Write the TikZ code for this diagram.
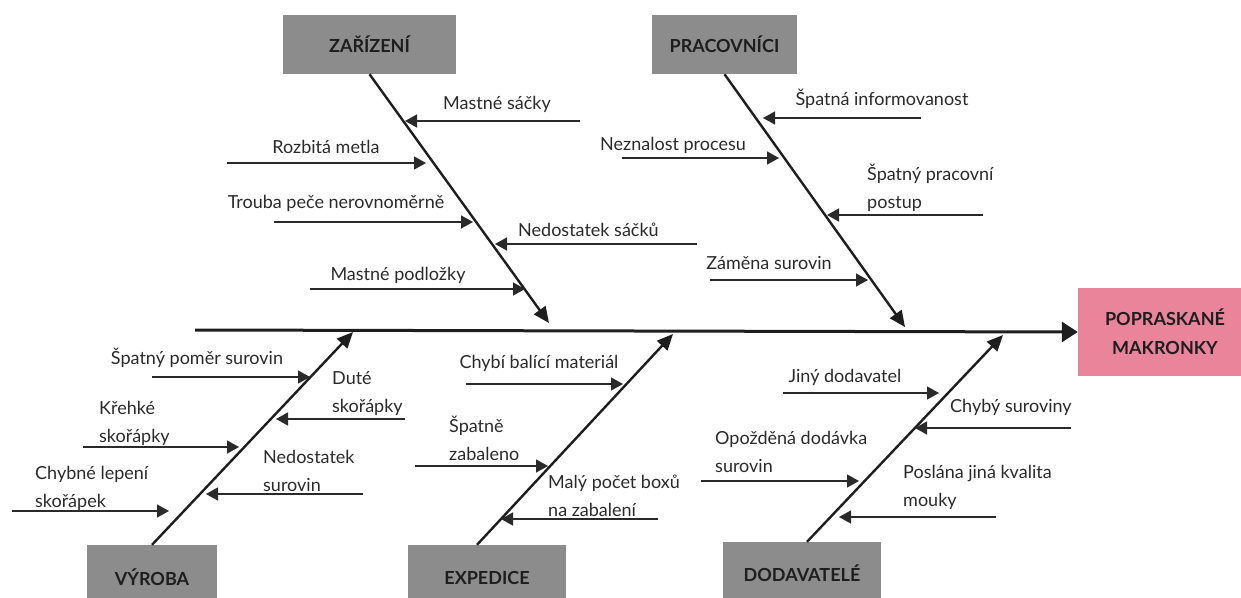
\documentclass[tikz,border=0pt]{standalone}
\usepackage{fontspec}
\setmainfont{Lato}
\usetikzlibrary{arrows.meta}
\definecolor{catgray}{HTML}{8C8C8C}
\definecolor{effectpink}{HTML}{E9849B}
\definecolor{ink}{HTML}{1E1E1E}
\definecolor{cause}{HTML}{2A2A2A}

\begin{document}
\begin{tikzpicture}[x=1pt,y=-1pt,
  catbox/.style={fill=catgray, draw=none, text=ink, inner sep=0pt,
    font=\fontsize{18}{21}\selectfont\bfseries},
  effectbox/.style={fill=effectpink, draw=none, text=ink, inner sep=0pt, align=center,
    font=\fontsize{18}{29}\selectfont\bfseries},
  lbl/.style={text=cause, inner sep=0pt, font=\fontsize{18}{28}\selectfont},
  lbll/.style={lbl, anchor=west, align=left},
  spine/.style={line width=3pt, ink, -{Triangle[length=16pt,width=20pt]}},
  bone/.style={line width=2.4pt, ink, -{Triangle[length=16pt,width=14pt]}},
  sub/.style={line width=1.4pt, cause, -{Triangle[length=12pt,width=13pt]}}]
\useasboundingbox (0,0) rectangle (1241,597);

% category and effect boxes
\node[catbox, minimum width=173pt, minimum height=59pt] (zar) at (369.5,44.5) {ZAŘÍZENÍ};
\node[catbox, minimum width=145pt, minimum height=59pt] (pra) at (724.5,44.5) {PRACOVNÍCI};
\node[catbox, minimum width=130pt, minimum height=65pt] (vyr) at (152,577.5) {VÝROBA};
\node[catbox, minimum width=158pt, minimum height=65pt] (exp) at (487,577.5) {EXPEDICE};
\node[catbox, minimum width=158pt, minimum height=62pt] (dod) at (802,573) {DODAVATELÉ};
\node[effectbox, minimum width=174pt, minimum height=88pt] (eff) at (1165,332) {POPRASKANÉ\\MAKRONKY};

% main spine
\coordinate (s0) at (195,330);
\draw[spine] (s0) -- (eff.west);

% bones
\coordinate (zarT) at (549,323);
\coordinate (praT) at (905,327);
\coordinate (vyrT) at (353,332);
\coordinate (expT) at (673,334);
\coordinate (dodT) at (1003,335);
\draw[bone] (zar.south) -- (zarT);
\draw[bone] (pra.south) -- (praT);
\draw[bone] (vyr.north) -- (vyrT);
\draw[bone] ([xshift=-10pt]exp.north) -- (expT);
\draw[bone] ([xshift=5pt]dod.north) -- (dodT);

% ZAŘÍZENÍ causes
\coordinate (z1a) at (580,121); \coordinate (z1b) at (405,121);
\coordinate (z2a) at (227,163); \coordinate (z2b) at (426,163);
\coordinate (z3a) at (274,222); \coordinate (z3b) at (473,222);
\coordinate (z4a) at (697,244); \coordinate (z4b) at (495,244);
\coordinate (z5a) at (310,289); \coordinate (z5b) at (525,289);
\draw[sub] (z1a) -- (z1b);
\draw[sub] (z2a) -- (z2b);
\draw[sub] (z3a) -- (z3b);
\draw[sub] (z4a) -- (z4b);
\draw[sub] (z5a) -- (z5b);
\node[lbl] (z1t) at (497,104) {Mastné sáčky};
\node[lbl] (z2t) at (326,147) {Rozbitá metla};
\node[lbl] (z3t) at (336,203) {Trouba peče nerovnoměrně};
\node[lbll] (z4t) at (518,230) {Nedostatek sáčků};
\node[lbl] (z5t) at (398,275) {Mastné podložky};

% PRACOVNÍCI causes
\coordinate (p1a) at (921,118); \coordinate (p1b) at (763,118);
\coordinate (p2a) at (622,158); \coordinate (p2b) at (779,158);
\coordinate (p3a) at (983,215); \coordinate (p3b) at (827,215);
\coordinate (p4a) at (710,280); \coordinate (p4b) at (868,280);
\draw[sub] (p1a) -- (p1b);
\draw[sub] (p2a) -- (p2b);
\draw[sub] (p3a) -- (p3b);
\draw[sub] (p4a) -- (p4b);
\node[lbl] (p1t) at (882,99) {Špatná informovanost};
\node[lbl] (p2t) at (673,145) {Neznalost procesu};
\node[lbll] (p3t) at (867,188) {Špatný pracovní\\postup};
\node[lbl] (p4t) at (769,263) {Záměna surovin};

% VÝROBA causes
\coordinate (v1a) at (152,377); \coordinate (v1b) at (310,377);
\coordinate (v2a) at (405,419); \coordinate (v2b) at (276,419);
\coordinate (v3a) at (83,447);  \coordinate (v3b) at (239,447);
\coordinate (v4a) at (363,494); \coordinate (v4b) at (206,494);
\coordinate (v5a) at (12,511);  \coordinate (v5b) at (169,511);
\draw[sub] (v1a) -- (v1b);
\draw[sub] (v2a) -- (v2b);
\draw[sub] (v3a) -- (v3b);
\draw[sub] (v4a) -- (v4b);
\draw[sub] (v5a) -- (v5b);
\node[lbl] (v1t) at (197,358) {Špatný poměr surovin};
\node[lbll] (v2t) at (332,393.5) {Duté\\skořápky};
\node[lbll] (v3t) at (99,423.5) {Křehké\\skořápky};
\node[lbll] (v4t) at (263,471) {Nedostatek\\surovin};
\node[lbll] (v5t) at (35,488.5) {Chybné lepení\\skořápek};

% EXPEDICE causes
\coordinate (e1a) at (466,384); \coordinate (e1b) at (623,384);
\coordinate (e2a) at (415,466); \coordinate (e2b) at (548,466);
\coordinate (e3a) at (658,519); \coordinate (e3b) at (501,519);
\draw[sub] (e1a) -- (e1b);
\draw[sub] (e2a) -- (e2b);
\draw[sub] (e3a) -- (e3b);
\node[lbl] (e1t) at (539,363) {Chybí balící materiál};
\node[lbll] (e2t) at (449,438.5) {Špatně\\zabaleno};
\node[lbll] (e3t) at (548,495.5) {Malý počet boxů\\na zabalení};

% DODAVATELÉ causes
\coordinate (d1a) at (783,393);  \coordinate (d1b) at (939,393);
\coordinate (d2a) at (1071,428); \coordinate (d2b) at (915,428);
\coordinate (d3a) at (701,481);  \coordinate (d3b) at (859,481);
\coordinate (d4a) at (996,517);  \coordinate (d4b) at (839,517);
\draw[sub] (d1a) -- (d1b);
\draw[sub] (d2a) -- (d2b);
\draw[sub] (d3a) -- (d3b);
\draw[sub] (d4a) -- (d4b);
\node[lbl] (d1t) at (845,377) {Jiný dodavatel};
\node[lbll] (d2t) at (950,407) {Chybý suroviny};
\node[lbll] (d3t) at (715,452) {Opožděná dodávka\\surovin};
\node[lbll] (d4t) at (903,487) {Poslána jiná kvalita\\mouky};
\end{tikzpicture}
\end{document}
